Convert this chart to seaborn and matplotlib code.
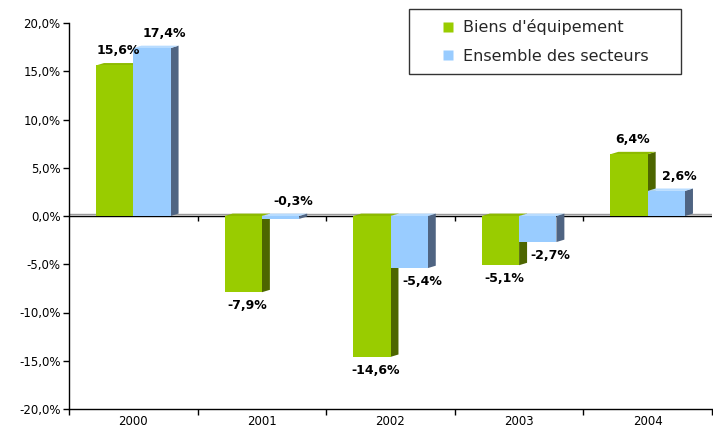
import numpy as np
import pandas as pd
import matplotlib
matplotlib.use("Agg")
import matplotlib.pyplot as plt
from matplotlib.patches import Polygon
from matplotlib.lines import Line2D
from matplotlib.ticker import FixedLocator, FuncFormatter
import seaborn as sns

# ---- data ----
years = ["2000", "2001", "2002", "2003", "2004"]
series_names = ["Biens d'équipement", "Ensemble des secteurs"]
biens = [15.6, -7.9, -14.6, -5.1, 6.4]
ensemble = [17.4, -0.3, -5.4, -2.7, 2.6]
y_ticks = [-20, -15, -10, -5, 0, 5, 10, 15, 20]

front_colors = ["#99CC00", "#99CCFF"]
side_colors = ["#4D6600", "#4F6482"]
top_colors = ["#8DBA00", "#B8DCFF"]

df = pd.DataFrame({
    "year": years * 2,
    "value": biens + ensemble,
    "series": [series_names[0]] * len(years) + [series_names[1]] * len(years),
})

sns.set_theme(style="ticks")
plt.rcParams["font.family"] = ["DejaVu Sans"]

fig = plt.figure(figsize=(7.13, 4.33), dpi=100)
ax = fig.add_axes([69 / 713, 1 - 409 / 433, 643 / 713, 386 / 433])

sns.barplot(data=df, x="year", y="value", hue="series", order=years,
            hue_order=series_names, palette=front_colors, width=0.58,
            saturation=1, ax=ax, legend=False, edgecolor="none", linewidth=0)

ax.set_xlim(-0.5, len(years) - 0.5)
ax.set_ylim(-20, 20)

# 3D depth (data units)
dx = 0.062
dy = 0.25
label_shift = [0.5, 1.6]  # label offset in multiples of dx, per series

n = len(years)
patches = list(ax.patches)
for i, p in enumerate(patches):
    s = i // n
    x0 = p.get_x()
    w = p.get_width()
    h = p.get_height()
    p.set_zorder(3 + 2 * s)
    top = max(h, 0)
    side = Polygon([(x0 + w, 0), (x0 + w, h), (x0 + w + dx, h + dy), (x0 + w + dx, dy)],
                   closed=True, facecolor=side_colors[s], edgecolor="none", zorder=2 + 2 * s)
    topf = Polygon([(x0, top), (x0 + w, top), (x0 + w + dx, top + dy), (x0 + dx, top + dy)],
                   closed=True, facecolor=top_colors[s], edgecolor="none", zorder=2 + 2 * s)
    ax.add_patch(side)
    ax.add_patch(topf)
    # value label
    v = h
    label = f"{v:.1f}".replace(".", ",") + "%"
    cx = x0 + w / 2 + label_shift[s] * dx
    if v >= 0 or abs(v) < 1:
        ax.annotate(label, (cx, top + dy), xytext=(0, 4), textcoords="offset points",
                    ha="center", va="bottom", fontsize=9, fontweight="bold",
                    color="black", zorder=10)
    else:
        ax.annotate(label, (cx, v), xytext=(0, -5), textcoords="offset points",
                    ha="center", va="top", fontsize=9, fontweight="bold",
                    color="black", zorder=10)

# zero line with floor edge
ax.axhline(dy, color="#9A9A9A", lw=1.0, zorder=1)
ax.axhline(0, color="black", lw=1.0, zorder=1)
bounds = np.arange(len(years) + 1) - 0.5
ax.vlines(bounds[1:-1], -0.55, 0, color="black", lw=1.0, zorder=1)

# axes styling
sns.despine(ax=ax, top=True, right=True)
ax.spines["left"].set_color("black")
ax.spines["bottom"].set_color("black")
ax.spines["left"].set_linewidth(1.0)
ax.spines["bottom"].set_linewidth(1.0)
ax.set_yticks(y_ticks)
ax.yaxis.set_major_formatter(FuncFormatter(lambda v, _: f"{v:.1f}".replace(".", ",") + "%"))
ax.tick_params(axis="y", length=4, width=1, color="black", labelsize=8.5, pad=2, labelcolor="black")
ax.set_xticks(range(len(years)))
ax.set_xticklabels(years)
ax.xaxis.set_minor_locator(FixedLocator(bounds))
ax.tick_params(axis="x", which="major", length=0, labelsize=8.5, pad=4, labelcolor="black")
ax.tick_params(axis="x", which="minor", length=4, width=1, color="black")
ax.set_xlabel("")
ax.set_ylabel("")
ax.grid(False)

# legend
handles = [Line2D([], [], marker="s", linestyle="none", markersize=6.5,
                  markerfacecolor=c, markeredgecolor="none") for c in front_colors]
leg = fig.legend(handles, series_names, loc="upper left",
                 bbox_to_anchor=(409 / 713, 1 - 9 / 433, 272 / 713, 0),
                 mode="expand", borderaxespad=0, handlelength=3.6, handletextpad=-0.9,
                 labelspacing=0.85, fontsize=11.5, frameon=True, fancybox=False,
                 borderpad=0.65)
leg.get_frame().set_edgecolor("black")
leg.get_frame().set_linewidth(1.0)

fig.savefig("out.png", dpi=100)
